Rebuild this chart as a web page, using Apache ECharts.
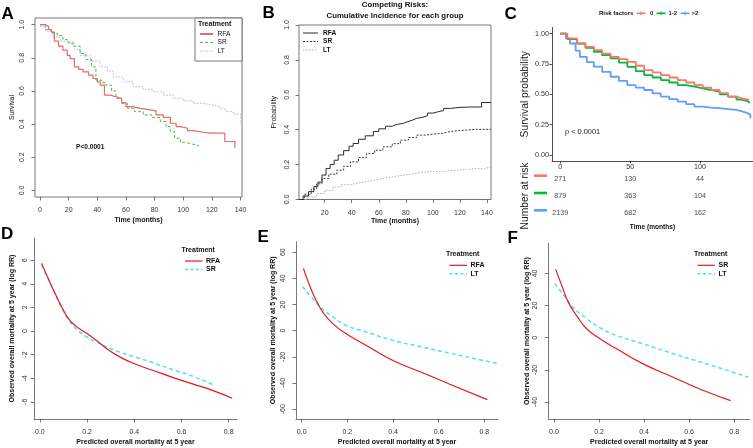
<!DOCTYPE html>
<html><head><meta charset="utf-8">
<script src="https://cdn.jsdelivr.net/npm/echarts@6/dist/echarts.min.js"></script>
<style>html,body{margin:0;padding:0;background:#fff}#c{width:753px;height:448px}</style>
</head><body><div id="c"></div>
<script>
const FONT = '"Liberation Sans", Arial, sans-serif';

// ---------- Panel A : Kaplan-Meier by treatment ----------
const A_RFA_t = [0,3,6,8,10,13,16,19,21,24,27,30,34,37,40,42,45,49,53,57,60,65,70,75,81,86,91,95,98,103,107,115,121,129,136];
const A_RFA_s = [1.0,0.99,0.97,0.955,0.90,0.87,0.846,0.815,0.795,0.745,0.73,0.715,0.695,0.675,0.655,0.635,0.575,0.565,0.555,0.53,0.505,0.495,0.489,0.48,0.455,0.44,0.405,0.385,0.375,0.36,0.349,0.345,0.345,0.295,0.255];
const A_SR_t = [0,4,8,12,16,19,23,28,32,36,39,43,46,50,53,57,61,66,72,78,84,88,91,94,98,101,106,111];
const A_SR_s = [1.0,0.97,0.95,0.935,0.91,0.895,0.87,0.826,0.79,0.745,0.665,0.65,0.635,0.6,0.555,0.525,0.495,0.475,0.455,0.44,0.415,0.385,0.355,0.315,0.29,0.28,0.27,0.27];
const A_LT_t = [0,4,9,14,19,24,28,35,42,47,51,58,65,72,79,86,93,100,107,114,121,126,130,135,140,140.5];
const A_LT_s = [0.99,0.96,0.925,0.90,0.886,0.85,0.815,0.78,0.745,0.72,0.685,0.655,0.625,0.61,0.595,0.575,0.555,0.54,0.525,0.515,0.505,0.49,0.475,0.46,0.455,0.40];
const A_xticks = [0,20,40,60,80,100,120,140];
const A_yticks = [0,0.2,0.4,0.6,0.8,1.0];

// ---------- Panel B : cumulative incidence ----------
const B_RFA_t = [1,4,8,12,15,18,21,24,27,30,34,38,41,45,50,56,60,65,70,73,78,81,85,88,92,96,100,104,108,113,120,128,136,143];
const B_RFA_p = [0,0.02,0.045,0.075,0.10,0.14,0.178,0.20,0.225,0.255,0.28,0.305,0.321,0.345,0.365,0.39,0.405,0.42,0.43,0.436,0.445,0.455,0.465,0.47,0.48,0.495,0.503,0.51,0.522,0.528,0.53,0.53,0.556,0.56];
const B_SR_t = [1,5,10,14,18,23,29,34,39,45,51,57,63,70,76,82,88,95,100,107,113,120,125,132,143];
const B_SR_p = [0,0.03,0.06,0.09,0.12,0.145,0.168,0.19,0.216,0.24,0.264,0.282,0.302,0.32,0.34,0.355,0.369,0.375,0.379,0.39,0.395,0.398,0.402,0.402,0.402];
const B_LT_t = [1,7,14,20,26,32,39,45,51,57,63,70,76,82,88,95,100,107,113,120,125,132,138,143];
const B_LT_p = [0,0.015,0.034,0.052,0.072,0.085,0.095,0.103,0.111,0.12,0.13,0.137,0.143,0.15,0.158,0.16,0.16,0.166,0.168,0.172,0.178,0.178,0.185,0.19];
const B_xticks = [20,40,60,80,100,120,140];
const B_yticks = [0,0.2,0.4,0.6,0.8,1.0];

// ---------- Panel C : KM by risk factors ----------
const C_t = [0,5,12,18,24,30,36,42,48,54,60,66,72,78,84,90,96,102,108,114,120,126,130,135];
const C_0 = [1.0,0.96,0.918,0.89,0.863,0.835,0.808,0.79,0.767,0.735,0.699,0.68,0.658,0.638,0.617,0.597,0.576,0.555,0.535,0.51,0.48,0.465,0.453,0.448];
const C_12 = [1.0,0.955,0.918,0.883,0.849,0.822,0.795,0.76,0.726,0.69,0.658,0.638,0.617,0.597,0.576,0.562,0.549,0.535,0.521,0.50,0.48,0.455,0.439,0.426];
const C_gt2_t = [0,4,7,11,14,19,24,30,36,42,48,54,60,66,72,78,84,90,96,102,108,114,120,126,130,134,136];
const C_gt2 = [1.0,0.96,0.918,0.86,0.808,0.765,0.727,0.685,0.644,0.61,0.576,0.555,0.535,0.507,0.48,0.46,0.439,0.418,0.398,0.39,0.385,0.378,0.371,0.358,0.344,0.33,0.303];
const C_groups = ['0','1-2','>2'];
const C_riskTimes = [0,50,100];
const C_risk0 = [271,130,44];
const C_risk12 = [879,363,104];
const C_riskGt2 = [2139,682,162];
const C_xticks = [0,50,100];
const C_yticks = [0,0.25,0.5,0.75,1.0];

// ---------- Panels D/E/F ----------
const D_RFA_x = [0.007,0.035,0.064,0.092,0.12,0.155,0.198,0.24,0.283,0.339,0.395,0.48,0.565,0.65,0.734,0.815];
const D_RFA_y = [5.73,4.46,3.19,2.06,1.07,0.37,-0.2,-0.8,-1.5,-2.2,-2.74,-3.35,-3.95,-4.5,-5.05,-5.7];
const D_SR_x = [0.007,0.035,0.064,0.092,0.12,0.155,0.198,0.24,0.283,0.339,0.395,0.48,0.565,0.65,0.742];
const D_SR_y = [5.6,4.4,3.15,2.0,1.0,0.15,-0.5,-0.95,-1.35,-1.8,-2.15,-2.7,-3.3,-3.85,-4.63];
const E_RFA_x = [0.0075,0.034,0.063,0.092,0.136,0.195,0.283,0.4,0.532,0.649,0.813];
const E_RFA_y = [47.6,34.8,23.2,14.3,5.4,-2.3,-11.3,-22.8,-32.3,-40.9,-52.7];
const E_LT_x = [0.004,0.048,0.085,0.136,0.195,0.283,0.4,0.532,0.649,0.796,0.862];
const E_LT_y = [33.5,24.5,17.6,10.5,4.1,-1.0,-7.4,-12.6,-17.2,-22.8,-25.3];
const F_SR_x = [0.0075,0.034,0.063,0.1,0.145,0.204,0.278,0.396,0.529,0.647,0.784];
const F_SR_y = [42.5,32.7,22.3,13.9,5.6,-0.6,-6.9,-16.3,-24.6,-31.9,-39.2];
const F_LT_x = [0.004,0.049,0.086,0.145,0.204,0.278,0.396,0.529,0.647,0.795,0.862];
const F_LT_y = [33.7,25.4,18.7,11.9,6.2,1.4,-3.8,-10,-15,-21.5,-24.6];
const DEF_xticks = [0,0.2,0.4,0.6,0.8];
const D_yticks = [-6,-4,-2,0,2,4,6];
const E_yticks = [-60,-40,-20,0,20,40,60];
const F_yticks = [-40,-20,0,20,40];

// ---------- colours ----------
const colA = {RFA:'#e26a6a', SR:'#4fb84f', LT:'#b4b4ee'};
const colB = {RFA:'#2b2b2b', SR:'#3a3a3a', LT:'#b0b0b0'};
const colC = ['#F8766D','#00BA38','#619CFF'];
const RED = '#e3191e', CYAN = '#4ee4ea';

function zip(xs, ys){ return xs.map((x,i)=>[x, ys[i]]); }

function axis(gridIndex, min, max, ticks, o) {
  o = o || {};
  return {
    type: 'value', gridIndex, min, max, position: o.position,
    name: o.name || '', nameLocation: 'middle', nameGap: o.nameGap || 20,
    nameTextStyle: { fontFamily: FONT, fontSize: o.nameSize || 7, fontWeight: o.nameBold ? 'bold' : 'normal', color: o.nameColor || '#111' },
    axisLine: { show: o.line !== false, onZero: false, lineStyle: { color: o.lineColor || '#555', width: o.lineWidth || 0.8 } },
    axisTick: { show: true, customValues: ticks, length: o.tickLen || 3.5, lineStyle: { color: o.lineColor || '#555', width: 0.8 } },
    axisLabel: { show: true, customValues: ticks, rotate: o.rotate || 0, margin: o.margin, fontFamily: FONT,
                 fontSize: o.labelSize || 7, color: o.labelColor || '#333', formatter: o.fmt },
    splitLine: { show: false }
  };
}
const f1 = v => v.toFixed(1), f2 = v => v.toFixed(2), f0 = v => String(Math.round(v));

const grids = [
  {left:35, top:18, width:207, height:179, show:true, borderColor:'#555', borderWidth:0.8},      // A
  {left:299, top:25, width:192, height:174.5, show:true, borderColor:'#555', borderWidth:0.8},   // B
  {left:552, top:27.5, width:201, height:133.5},                                                // C
  {left:552, top:170, width:201, height:52},                                                    // C risk table
  {left:34, top:238, width:203, height:181},                                                    // D
  {left:296, top:241.7, width:202, height:177.3},                                               // E
  {left:548.3, top:243.3, width:201.7, height:175.7}                                            // F
];

const xAxes = [
  axis(0, -3.5, 141, A_xticks, {margin:9.5, fmt:f0, name:'Time (months)', nameBold:true, nameGap:19.5, line:false}),
  axis(1, 1, 143, B_xticks, {margin:9.7, fmt:f0, name:'Time (months)', nameBold:true, nameGap:17.7, line:false}),
  axis(2, -5.9, 137.86, C_xticks, {margin:2.5, fmt:f0, tickLen:2.5, labelSize:7.2, lineColor:'#222', labelColor:'#333'}),
  {type:'value', gridIndex:3, min:-5.9, max:137.86, axisLine:{show:false}, axisTick:{show:false}, axisLabel:{show:false}, splitLine:{show:false},
   name:'Time (months)', nameLocation:'middle', nameGap:1.8, nameTextStyle:{fontFamily:FONT, fontSize:6.6, fontWeight:'bold', color:'#111'}},
  axis(4, -0.025, 0.835, DEF_xticks, {margin:9.8, fmt:f1, name:'Predicted overall mortality at 5 year', nameBold:true, nameGap:19.2}),
  axis(5, -0.025, 0.86, DEF_xticks, {margin:9.8, fmt:f1, name:'Predicted overall mortality at 5 year', nameBold:true, nameGap:19.2}),
  axis(6, -0.025, 0.87, DEF_xticks, {margin:9.8, fmt:f1, name:'Predicted overall mortality at 5 year', nameBold:true, nameGap:19.2})
];

const riskRich = {
  g0: {backgroundColor: colC[0], width: 13, height: 2.6},
  g1: {backgroundColor: colC[1], width: 13, height: 2.6},
  g2: {backgroundColor: colC[2], width: 13, height: 2.6}
};

const yAxes = [
  axis(0, -0.04, 1.04, A_yticks, {rotate:90, margin:9.8, fmt:f1, name:'Survival', nameGap:19.8, line:false}),
  axis(1, 0, 1, B_yticks, {rotate:90, margin:8.5, fmt:f1, name:'Probability', nameGap:21.5, line:false}),
  axis(2, -0.05, 1.05, C_yticks, {margin:3, fmt:f2, tickLen:2.5, labelSize:7.2, lineColor:'#222', labelColor:'#333',
        name:'Survival probability', nameSize:10.3, nameGap:21.8, nameColor:'#222'}),
  {type:'category', gridIndex:3, data:C_groups, inverse:true, axisLine:{show:false}, axisTick:{show:false}, splitLine:{show:false},
   axisLabel:{margin:5, padding:[0,0,6,0], formatter:(v)=>'{g'+C_groups.indexOf(v)+'| }', rich:riskRich},
   name:'Number at risk', nameLocation:'middle', nameGap:22, nameTextStyle:{fontFamily:FONT, fontSize:10.3, color:'#222'}},
  axis(4, -7.46, 7.88, D_yticks, {rotate:90, margin:5.2, fmt:f0, name:'Observed overall mortality at 5 year (log RR)', nameBold:true, nameGap:18.8}),
  axis(5, -67.5, 68, E_yticks, {rotate:90, margin:9.8, fmt:f0, name:'Observed overall mortality at 5 year (log RR)', nameBold:true, nameGap:19.2}),
  axis(6, -50.6, 58.75, F_yticks, {rotate:90, margin:10.1, fmt:f0, name:'Observed overall mortality at 5 year (log RR)', nameBold:true, nameGap:18.1})
];

function stepLine(idx, data, color, width, type) {
  return {type:'line', xAxisIndex:idx, yAxisIndex:idx, data, step:'end', showSymbol:false, symbol:'none',
    lineStyle:{color, width, type}, silent:true, animation:false};
}
function smoothLine(idx, data, color, width, type) {
  return {type:'line', xAxisIndex:idx, yAxisIndex:idx, data, smooth:0.5, showSymbol:false, symbol:'none',
    lineStyle:{color, width, type}, silent:true, animation:false};
}

const riskData = [];
[C_risk0, C_risk12, C_riskGt2].forEach((arr, gi) => arr.forEach((n, k) => riskData.push([C_riskTimes[k], gi, n])));

const series = [
  stepLine(0, zip(A_LT_t, A_LT_s), colA.LT, 1, [1.5,1.5]),
  stepLine(0, zip(A_SR_t, A_SR_s), colA.SR, 1, [3,2]),
  stepLine(0, zip(A_RFA_t, A_RFA_s), colA.RFA, 1.2, 'solid'),
  stepLine(1, zip(B_LT_t, B_LT_p), colB.LT, 1, [1.5,1.5]),
  stepLine(1, zip(B_SR_t, B_SR_p), colB.SR, 1, [2,1.5]),
  stepLine(1, zip(B_RFA_t, B_RFA_p), colB.RFA, 1, 'solid'),
  stepLine(2, zip(C_gt2_t, C_gt2), colC[2], 1.8, 'solid'),
  stepLine(2, zip(C_t, C_12), colC[1], 1.8, 'solid'),
  stepLine(2, zip(C_t, C_0), colC[0], 1.8, 'solid'),
  {type:'scatter', xAxisIndex:3, yAxisIndex:3, data:riskData, symbolSize:1, itemStyle:{color:'transparent'}, silent:true, animation:false,
   label:{show:true, position:'inside', formatter:p=>String(p.value[2]), fontFamily:FONT, fontSize:7.2, color:'#111'}},
  smoothLine(4, zip(D_SR_x, D_SR_y), CYAN, 1.5, [4,3]),
  smoothLine(4, zip(D_RFA_x, D_RFA_y), RED, 1.2, 'solid'),
  smoothLine(5, zip(E_LT_x, E_LT_y), CYAN, 1.5, [4,3]),
  smoothLine(5, zip(E_RFA_x, E_RFA_y), RED, 1.2, 'solid'),
  smoothLine(6, zip(F_LT_x, F_LT_y), CYAN, 1.5, [4,3]),
  smoothLine(6, zip(F_SR_x, F_SR_y), RED, 1.2, 'solid')
];

// ---------- annotations ----------
const G = [];
function txt(x, y, s, size, o) {
  o = o || {};
  G.push({type:'text', x, y, z:100, silent:true,
    style:{text:s, font:(o.bold?'bold ':'') + size + 'px ' + FONT, fill:o.color || '#111', align:o.align || 'left', verticalAlign:'middle'}});
}
function seg(x1, y1, x2, y2, color, w, dash) {
  G.push({type:'line', z:100, silent:true, shape:{x1, y1, x2, y2}, style:{stroke:color, lineWidth:w, lineDash:dash || null}});
}
[['A',1.5,14.5],['B',262.5,13],['C',504.5,14.8],['D',1,234.5],['E',257.5,237.5],['F',507.5,238.5]].forEach(l => txt(l[1], l[2], l[0], 17, {bold:true, color:'#000'}));

G.push({type:'rect', z:99, silent:true, shape:{x:195, y:18, width:47, height:43}, style:{fill:'#fff', stroke:'#555', lineWidth:0.8}});
txt(198, 24.5, 'Treatment', 7, {bold:true});
seg(200, 34, 213, 34, colA.RFA, 2); txt(217.5, 34, 'RFA', 6.6);
seg(200, 42.5, 213, 42.5, colA.SR, 1, [3,2]); txt(217.5, 42.5, 'SR', 6.6);
seg(200, 51, 213, 51, colA.LT, 1, [1.5,1.5]); txt(217.5, 51, 'LT', 6.6);
txt(76, 147, 'P<0.0001', 6.6, {bold:true});

txt(395, 4.6, 'Competing Risks:', 7.8, {bold:true, align:'center'});
txt(395, 15.5, 'Cumulative Incidence for each group', 7.8, {bold:true, align:'center'});
seg(303, 33, 318, 33, colB.RFA, 1); txt(323, 33, 'RFA', 6.6, {bold:true});
seg(303, 41.5, 318, 41.5, colB.SR, 1, [2,1.5]); txt(323, 41.5, 'SR', 6.6, {bold:true});
seg(303, 50, 318, 50, colB.LT, 1, [1.5,1.5]); txt(323, 50, 'LT', 6.6, {bold:true});

txt(599, 13.3, 'Risk factors', 6, {bold:true});
[[636.5,645.5,'0',650],[656.5,665.5,'1-2',668.5],[680.5,689.5,'>2',691.5]].forEach((e, i) => {
  seg(e[0], 13.3, e[1], 13.3, colC[i], 1.6);
  seg((e[0]+e[1])/2, 11.3, (e[0]+e[1])/2, 15.3, colC[i], 1);
  txt(e[3], 13.5, e[2], 6, {bold:true, color:'#222'});
});
txt(565, 131.7, 'p < 0.0001', 7.4, {color:'#222'});

function defLegend(x0, yT, n1, n2) {
  txt(x0, yT, 'Treatment', 7, {bold:true});
  seg(x0 + 3.5, yT + 11, x0 + 21, yT + 11, RED, 1.2);
  txt(x0 + 24.5, yT + 11, n1, 7, {bold:true});
  seg(x0 + 3.5, yT + 19.5, x0 + 21, yT + 19.5, CYAN, 1.5, [3,2.5]);
  txt(x0 + 24.5, yT + 19.5, n2, 7, {bold:true});
}
defLegend(181.5, 250, 'RFA', 'SR');
defLegend(446, 254.3, 'RFA', 'LT');
defLegend(694, 254.3, 'SR', 'LT');

const chart = echarts.init(document.getElementById('c'), null, {renderer:'canvas'});
chart.setOption({
  animation:false,
  backgroundColor:'#fff',
  textStyle:{fontFamily:FONT},
  grid:grids, xAxis:xAxes, yAxis:yAxes, series, graphic:G
});
</script>
</body></html>
